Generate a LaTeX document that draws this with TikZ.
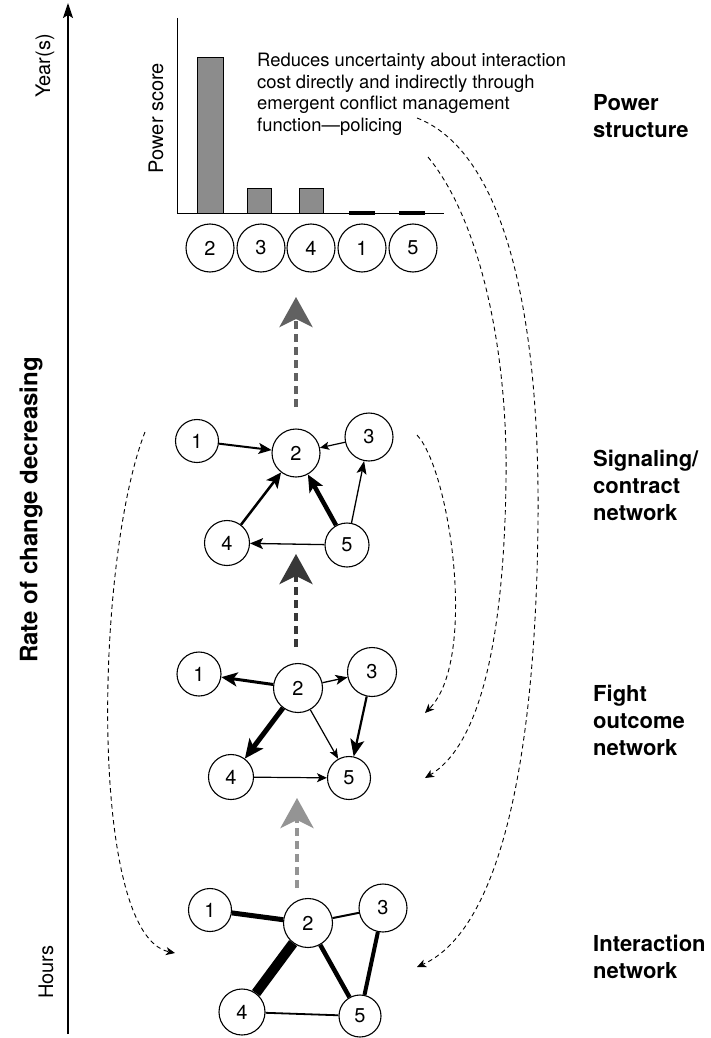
\documentclass[tikz,border=0pt]{standalone}
\usepackage{fontspec}
\setmainfont{TeX Gyre Heros}
\usetikzlibrary{arrows.meta}
\begin{document}
\begin{tikzpicture}[x=1pt,y=-1pt,
  nd/.style={circle,draw,line width=1.1pt,inner sep=0pt,font=\fontsize{20}{20}\selectfont},
  lab/.style={font=\fontsize{22}{27}\selectfont\bfseries,align=left,anchor=north west,inner sep=0pt},
  axlab/.style={font=\fontsize{20}{20}\selectfont,rotate=90,inner sep=0pt},
  bar/.style={draw=black,line width=0.9pt,fill=black!45},
  curv/.style={line width=0.9pt,dash pattern=on 4.5pt off 3.5pt,-{Stealth[length=9pt,width=8pt,inset=2.5pt]}},
  big/.style={line width=4pt,dash pattern=on 8pt off 5pt,-{Stealth[length=30pt,width=33pt,inset=8pt]}},
  ar/.style n args={4}{line width=#1pt,-{Stealth[length=#2pt,width=#3pt,inset=#4pt]}},
  ed/.style={line width=#1pt}
]
\useasboundingbox (0,0) rectangle (710,1038);

% time axis
\coordinate (ax0) at (68,1034);
\coordinate (ax1) at (68,3);
\draw[line width=1.5pt,-{Stealth[length=15pt,width=10pt,inset=3pt]}] (ax0) -- (ax1);
\node[axlab] (years) at (45,66) {Year(s)};
\node[axlab] (hours) at (46,972) {Hours};
\node[axlab,font=\fontsize{24}{24}\selectfont\bfseries] (rate) at (31,510) {Rate of change decreasing};

% bar chart
\coordinate (yax) at (177,18);
\coordinate (org) at (177,213);
\coordinate (xax) at (444,213);
\draw[line width=1pt] (yax) -- (org) -- (xax);
\node[axlab] (pscore) at (156,118) {Power score};
\draw[bar] (197,213) rectangle (223,57);
\draw[bar] (247,213) rectangle (271,188);
\draw[bar] (299,213) rectangle (323,188);
\fill (349,211) rectangle (375,215);
\fill (399,211) rectangle (425,215);
\node[nd,minimum size=48pt] (r2) at (210,248) {2};
\node[nd,minimum size=48pt] (r3) at (261,248) {3};
\node[nd,minimum size=48pt] (r4) at (311,248) {4};
\node[nd,minimum size=48pt] (r1) at (362,248) {1};
\node[nd,minimum size=48pt] (r5) at (413,248) {5};

\node[font=\fontsize{18.4}{21.5}\selectfont,align=left,anchor=north west,inner sep=0pt] (txt) at (257,53)
  {Reduces uncertainty about interaction\\cost directly and indirectly through\\emergent conflict management\\function—policing};

% right labels
\node[lab] (lpow) at (593,94) {Power\\structure};
\node[lab] (lsig) at (593,450) {Signaling/\\contract\\network};
\node[lab] (lfig) at (593,685) {Fight\\outcome\\network};
\node[lab] (lint) at (593,935) {Interaction\\network};

% big dashed arrows
\coordinate (b1a) at (296,407); \coordinate (b1b) at (296,297);
\coordinate (b2a) at (296,647); \coordinate (b2b) at (296,554);
\coordinate (b3a) at (297,888); \coordinate (b3b) at (297,798);
\draw[big,color=black!62] (b1a) -- (b1b);
\draw[big,color=black!78] (b2a) -- (b2b);
\draw[big,color=black!42] (b3a) -- (b3b);

% signaling / contract network
\node[nd,minimum size=43pt] (s1) at (197,441) {1};
\node[nd,minimum size=48pt] (s2) at (296,453) {2};
\node[nd,minimum size=48pt] (s3) at (369,437) {3};
\node[nd,minimum size=45pt] (s4) at (227,543) {4};
\node[nd,minimum size=44pt] (s5) at (347,545) {5};
\draw[ar={2}{13}{11}{3}] (s1) -- (s2);
\draw[ar={1.2}{9}{8}{2}] (s3) -- (s2);
\draw[ar={2.5}{15}{14}{3.5}] (s4) -- (s2);
\draw[ar={4.5}{17}{15}{4}] (s5) -- (s2);
\draw[ar={1.3}{13}{10}{3}] (s5) -- (s3);
\draw[ar={1.3}{13}{11}{3}] (s5) -- (s4);

% fight outcome network
\node[nd,minimum size=44pt] (f1) at (199,674) {1};
\node[nd,minimum size=49pt] (f2) at (298,688) {2};
\node[nd,minimum size=49pt] (f3) at (372,672) {3};
\node[nd,minimum size=45pt] (f4) at (231,777) {4};
\node[nd,minimum size=43pt] (f5) at (349,778) {5};
\draw[ar={3}{16}{14}{4}] (f2) -- (f1);
\draw[ar={1.3}{12}{10}{3}] (f2) -- (f3);
\draw[ar={5}{19}{17}{4.5}] (f2) -- (f4);
\draw[ar={1.2}{10}{8}{2.5}] (f2) -- (f5);
\draw[ar={2.2}{17}{14}{4}] (f3) -- (f5);
\draw[ar={1.2}{10}{9}{2.5}] (f4) -- (f5);

% interaction network
\node[nd,minimum size=43pt] (i1) at (210,910) {1};
\node[nd,minimum size=49pt] (i2) at (308,923) {2};
\node[nd,minimum size=48pt] (i3) at (383,908) {3};
\node[nd,minimum size=46pt] (i4) at (242,1012) {4};
\node[nd,minimum size=42pt] (i5) at (360,1016) {5};
\draw[ed=5] (i1) -- (i2);
\draw[ed=2] (i2) -- (i3);
\draw[ed=10] (i2) -- (i4);
\draw[ed=4.5] (i2) -- (i5);
\draw[ed=4] (i3) -- (i5);
\draw[ed=1.8] (i4) -- (i5);

% feedback dashed curves
\coordinate (cL0) at (145,432); \coordinate (cL1) at (175,953);
\draw[curv] (cL0) .. controls (95,560) and (88,935) .. (cL1);
\coordinate (cA0) at (417,435); \coordinate (cA1) at (425,713);
\draw[curv] (cA0) .. controls (450,470) and (478,660) .. (cA1);
\coordinate (cB0) at (428,157); \coordinate (cB1) at (425,778);
\draw[curv] (cB0) .. controls (480,220) and (508,350) .. (506,480) .. controls (504,640) and (480,745) .. (cB1);
\coordinate (cC0) at (417,118); \coordinate (cC1) at (417,967);
\draw[curv] (cC0) .. controls (500,150) and (540,300) .. (538,520) .. controls (536,760) and (500,930) .. (cC1);
\end{tikzpicture}
\end{document}
